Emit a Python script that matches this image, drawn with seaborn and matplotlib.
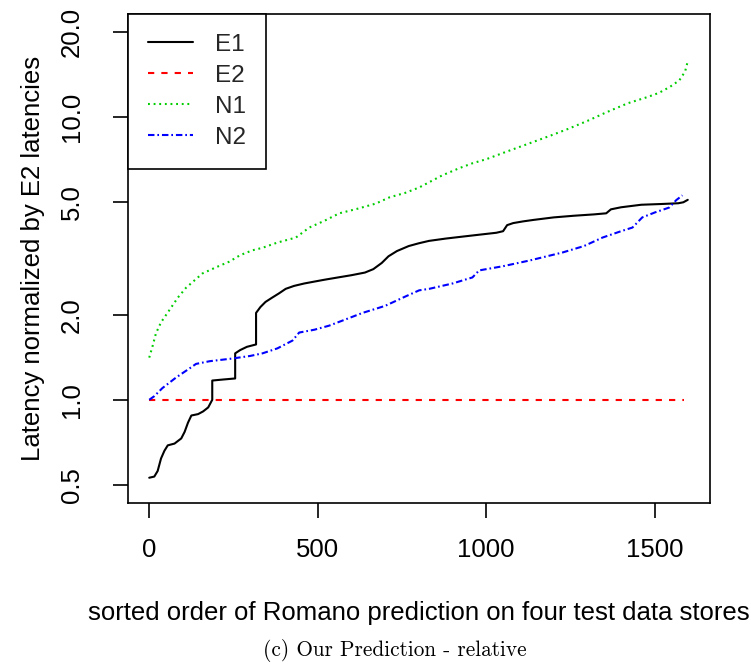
import numpy as np
import pandas as pd
import matplotlib
matplotlib.use("Agg")
import matplotlib.pyplot as plt
import seaborn as sns

# ---- data ----
e1_x = [0, 15, 25, 35, 45, 55, 75, 95, 105, 115, 125, 145, 160, 175, 187, 187, 220, 255, 255,
        270, 290, 317, 317, 330, 345, 365, 385, 405, 430, 460, 490, 520, 560, 600, 640, 665,
        690, 710, 735, 770, 800, 830, 880, 930, 980, 1030, 1050, 1062, 1080, 1110, 1140, 1200,
        1260, 1320, 1356, 1370, 1400, 1460, 1520, 1570, 1585, 1598]
e1_y = [0.53, 0.535, 0.56, 0.62, 0.66, 0.69, 0.70, 0.73, 0.77, 0.83, 0.88, 0.89, 0.91, 0.94,
        1.00, 1.17, 1.18, 1.19, 1.46, 1.50, 1.54, 1.57, 2.03, 2.13, 2.22, 2.30, 2.38, 2.47,
        2.53, 2.58, 2.62, 2.66, 2.71, 2.76, 2.82, 2.90, 3.05, 3.22, 3.36, 3.50, 3.58, 3.65,
        3.72, 3.78, 3.84, 3.90, 3.95, 4.15, 4.22, 4.28, 4.33, 4.42, 4.48, 4.53, 4.57, 4.72,
        4.80, 4.90, 4.93, 4.96, 5.00, 5.10]

e2_x = [0, 1588]
e2_y = [1.0, 1.0]

n1_x = [0, 10, 20, 35, 59, 85, 109, 135, 158, 200, 237, 270, 306, 336, 380, 435, 475, 520,
        564, 620, 673, 712, 760, 801, 831, 870, 920, 959, 1000, 1060, 1128, 1190, 1246, 1300,
        1356, 1420, 1480, 1513, 1545, 1573, 1590, 1597]
n1_y = [1.41, 1.55, 1.72, 1.88, 2.07, 2.30, 2.49, 2.65, 2.80, 2.95, 3.08, 3.25, 3.38, 3.45,
        3.60, 3.75, 4.07, 4.30, 4.57, 4.75, 4.95, 5.20, 5.40, 5.64, 5.89, 6.23, 6.60, 6.87,
        7.10, 7.55, 8.08, 8.60, 9.12, 9.70, 10.4, 11.2, 11.8, 12.2, 12.8, 13.5, 14.5, 15.6]

n2_x = [0, 15, 39, 80, 119, 139, 180, 247, 300, 336, 380, 425, 445, 490, 534, 580, 633, 700,
        760, 801, 831, 900, 959, 979, 1050, 1128, 1226, 1290, 1345, 1400, 1434, 1463, 1500,
        1543, 1564, 1582]
n2_y = [1.00, 1.03, 1.10, 1.20, 1.29, 1.34, 1.37, 1.40, 1.43, 1.46, 1.52, 1.62, 1.73, 1.77,
        1.83, 1.92, 2.03, 2.15, 2.32, 2.44, 2.47, 2.58, 2.71, 2.87, 2.97, 3.11, 3.32, 3.50,
        3.75, 3.95, 4.07, 4.42, 4.60, 4.79, 5.09, 5.29]

y_ticks = [0.5, 1.0, 2.0, 5.0, 10.0, 20.0]
y_tick_labels = ["0.5", "1.0", "2.0", "5.0", "10.0", "20.0"]
x_ticks = [0, 500, 1000, 1500]
x_tick_labels = ["0", "500", "1000", "1500"]

sns.set_style("white")
plt.rcParams["font.family"] = ["Liberation Sans", "DejaVu Sans"]

W, H = 751, 666
fig = plt.figure(figsize=(W / 100, H / 100), dpi=100)
L, R, T, B = 128, 710, 14, 503
ax = fig.add_axes([L / W, 1 - B / H, (R - L) / W, (B - T) / H])

FS = 18.5
lw = 1.5
sns.lineplot(x=e1_x, y=e1_y, ax=ax, color="black", lw=lw,
             estimator=None, sort=False, label="E1")
sns.lineplot(x=e2_x, y=e2_y, ax=ax, color="#FF0000", lw=lw, dashes=(3.0, 3.4),
             estimator=None, sort=False, label="E2")
sns.lineplot(x=n1_x, y=n1_y, ax=ax, color="#00CD00", lw=lw, dashes=(0.9, 1.8),
             estimator=None, sort=False, label="N1")
sns.lineplot(x=n2_x, y=n2_y, ax=ax, color="#0000FF", lw=lw, dashes=(3.1, 1.4, 0.8, 1.4),
             estimator=None, sort=False, label="N2")

ax.set_yscale("log")
ax.set_ylim(10 ** (np.log10(0.5) - 0.0641), 10 ** (np.log10(20) + 0.0641))
ax.set_xlim(-63, 1664)
ax.set_yticks(y_ticks)
ax.set_yticklabels(y_tick_labels)
ax.minorticks_off()
ax.set_xticks(x_ticks)
ax.set_xticklabels(x_tick_labels)

for s in ax.spines.values():
    s.set_visible(True)
    s.set_color("black")
    s.set_linewidth(1.2)

ax.tick_params(axis="both", direction="out", length=11, width=1.2, color="black",
               labelsize=FS, labelcolor="black", left=True, bottom=True)
ax.tick_params(axis="x", pad=14)
ax.tick_params(axis="y", pad=21)
for t in ax.get_yticklabels():
    t.set_rotation(90)
    t.set_va("center")
    t.set_ha("right")

ax.set_xlabel("")
ax.set_ylabel("")
fig.text((L + R) / 2 / W, 1 - 620 / H, "sorted order of Romano prediction on four test data stores",
         ha="center", va="baseline", fontsize=FS, color="black")
fig.text(33 / W, 1 - (T + B) / 2 / H, "Latency normalized by E2 latencies",
         ha="center", va="center", rotation=90, fontsize=FS, color="black")
fig.text(395 / W, 1 - 650 / H, "(c) Our Prediction - relative",
         ha="center", va="center", fontsize=15.3, family="cmr10", color="black")

leg = ax.legend(loc="upper left", bbox_to_anchor=(0, 1), borderaxespad=0, frameon=True,
                fancybox=False, edgecolor="black", framealpha=1, fontsize=17.5,
                handlelength=1.85, handletextpad=0.9, borderpad=0.82, labelspacing=0.37)
leg.get_frame().set_linewidth(1.2)

fig.savefig("out.png", dpi=100)
